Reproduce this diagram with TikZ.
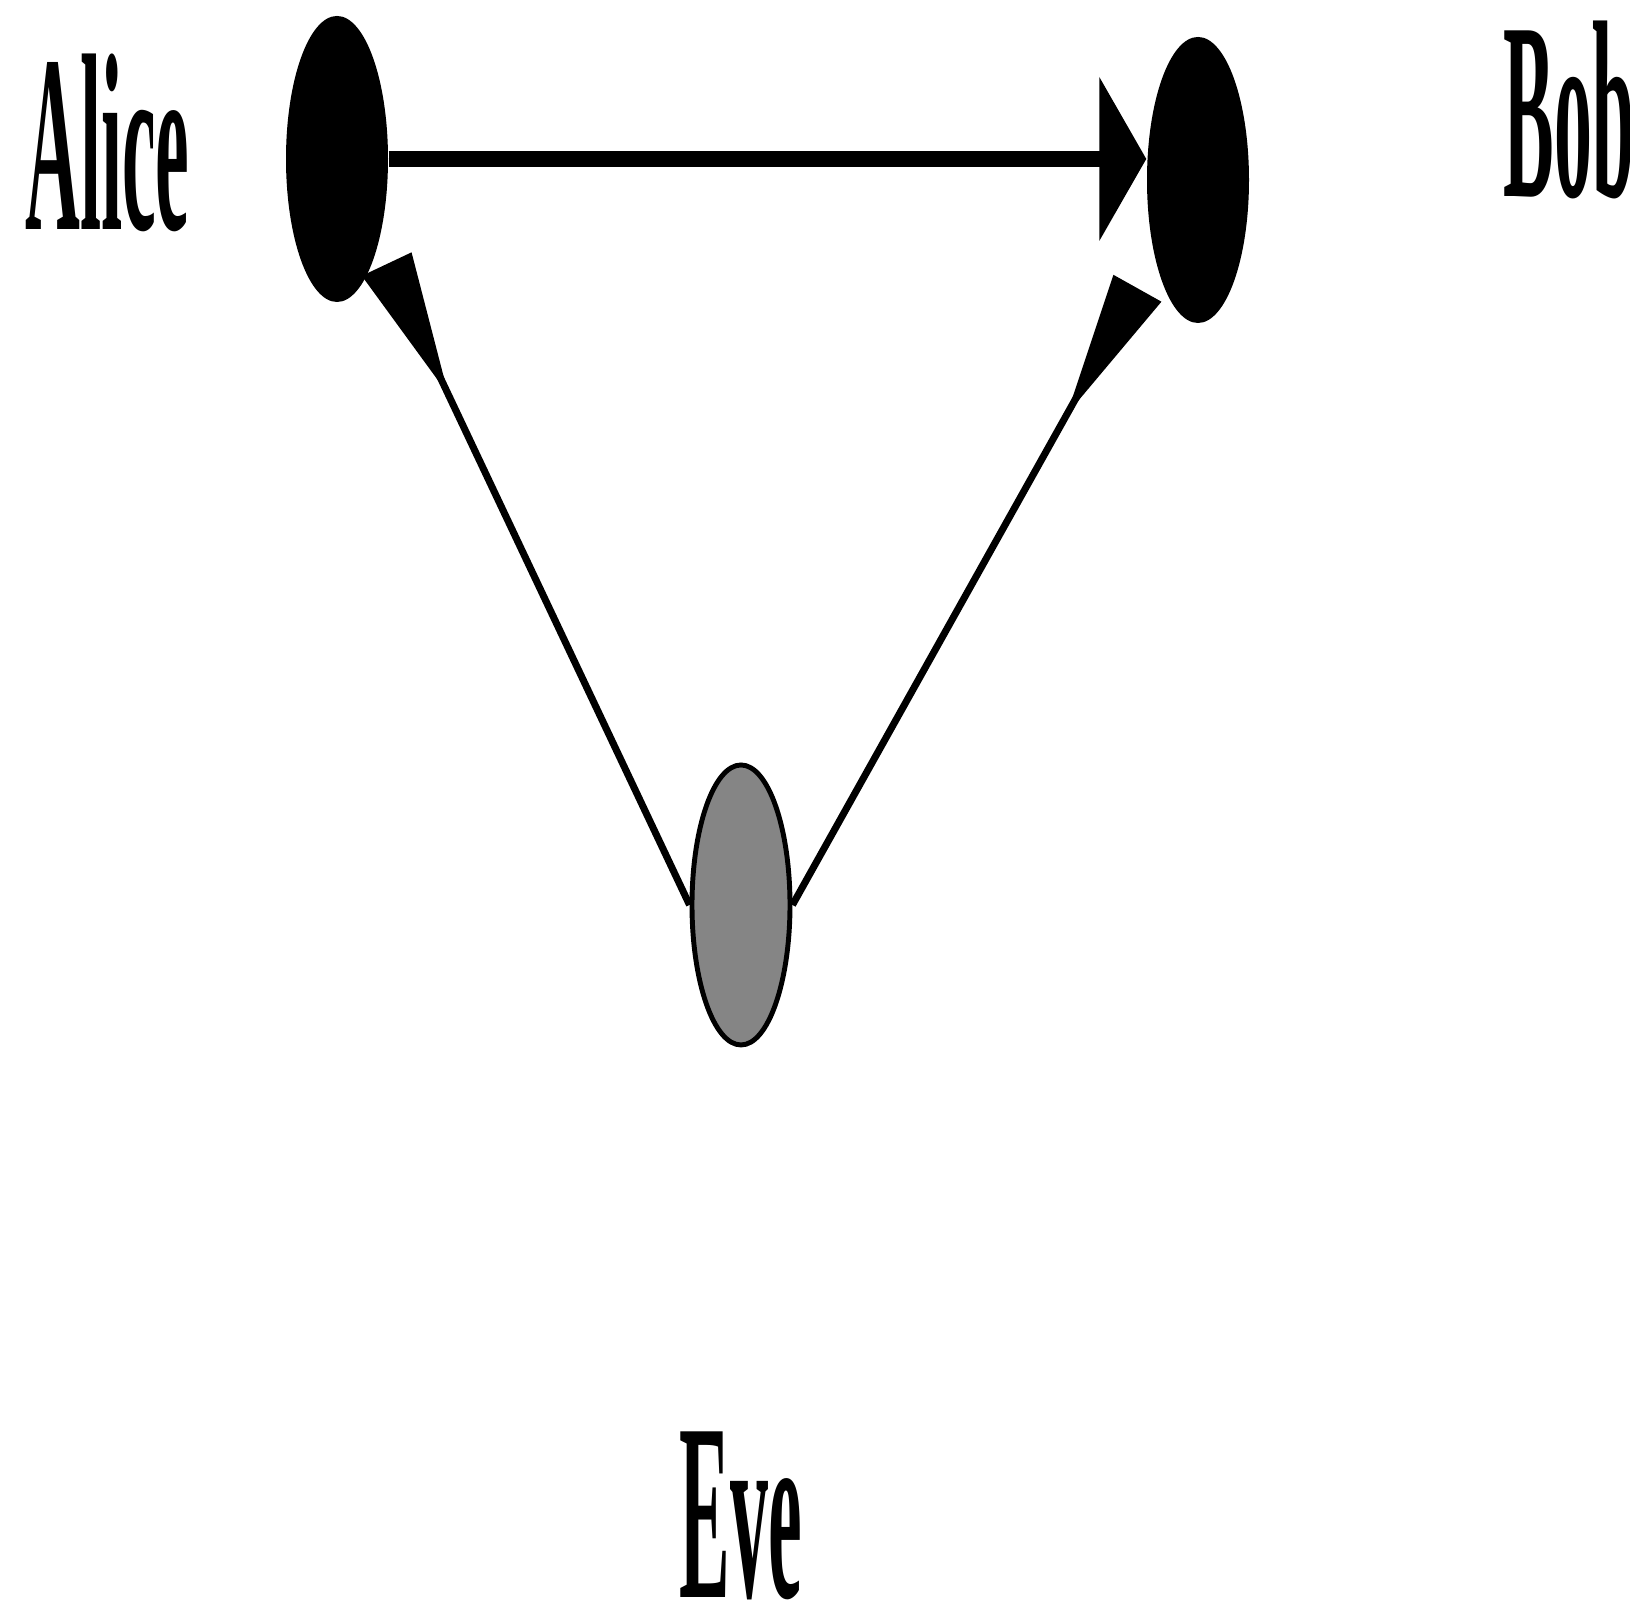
\documentclass[tikz,border=0pt]{standalone}
\usepackage{fontspec}
\setmainfont{Liberation Serif}
\usepackage{graphicx}
\usepackage{tikz}
\usetikzlibrary{arrows.meta, positioning, shapes.geometric}

\newcommand{\narrowname}[1]{\scalebox{0.3}[1]{#1}}

\begin{document}
\begin{tikzpicture}[
    party/.style={ellipse, fill=black, inner sep=0pt,
                  minimum width=1.02cm, minimum height=2.86cm},
    spy/.style={ellipse, draw=black, line width=1.4pt, fill=black!48,
                inner sep=0pt, minimum width=0.98cm, minimum height=2.8cm},
    who/.style={inner sep=0pt, font=\fontsize{72}{80}\selectfont\bfseries},
    msg/.style={-{Triangle[length=4.7mm, width=16.2mm]}, line width=4.8pt},
    tap/.style={-{Triangle[reversed, length=14.5mm, width=5.3mm]}, line width=2pt}
  ]
  \useasboundingbox (0,0) rectangle (16.3,16.09);
  \node[party] (a) at (3.37,14.50) {};
  \node[party] (b) at (11.98,14.29) {};
  \node[spy]   (e) at (7.41,7.04) {};

  \node[who, left=0.95cm of a, yshift=0.16cm] (alice) {\narrowname{Alice}};
  \node[who, right=2.53cm of b, yshift=0.7cm] (bob)   {\narrowname{Bob}};
  \node[who, below=3.84cm of e]               (eve)   {\narrowname{Eve}};

  \draw[msg] (a.east) -- (a.east -| b.west);
  \draw[tap, shorten >=2mm]   (e.west) -- (a);
  \draw[tap, shorten >=3.5mm] (e.east) -- (b);
\end{tikzpicture}
\end{document}
